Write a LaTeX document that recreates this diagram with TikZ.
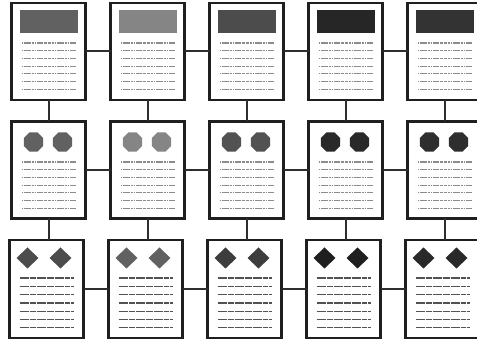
\documentclass[tikz,border=0pt]{standalone}
\usetikzlibrary{calc}
\begin{document}
\begin{tikzpicture}[x=1pt,y=-1pt,
  page/.style={draw=black!88, line width=2.6pt, fill=white, minimum width=74pt, minimum height=97pt, inner sep=0pt, outer sep=0pt, anchor=north west},
  link/.style={draw=black!82, line width=2pt},
  txt/.style={draw=black!45, line width=1.1pt, dash pattern=on 1.6pt off 0.6pt on 0.8pt off 0.6pt on 2.4pt off 0.6pt},
  txtdark/.style={draw=black!68, line width=1.3pt, dash pattern=on 4pt off 0.4pt on 2pt off 0.4pt on 3pt off 0.4pt}]
\useasboundingbox[fill=white] (0,0) rectangle (477,344);
\clip (0,0) rectangle (477,344);
% pages
\foreach \c [evaluate=\c as \x using 11.5+99*(\c-1), evaluate=\c as \xx using 9.5+99*(\c-1)] in {1,...,5}{
  \node[page] (p1\c) at (\x,3) {};
  \node[page] (p2\c) at (\x,121.5) {};
  \node[page, minimum height=98pt] (p3\c) at (\xx,240) {};
}
% connectors
\foreach \c [evaluate=\c as \d using int(\c+1)] in {1,...,4}{
  \draw[link] (p1\c.east) -- (p1\d.west);
  \draw[link] (p2\c.east) -- (p2\d.west);
  \draw[link] (p3\c.east) -- (p3\d.west);
}
\foreach \c in {1,...,5}{
  \draw[link] (p1\c.south) -- (p2\c.north);
  \draw[link] (p2\c.south) -- (p2\c.south |- p3\c.north);
}
% page contents
\foreach \c/\hd/\oc/\dm [evaluate=\c as \x using 11.5+99*(\c-1), evaluate=\c as \xx using 9.5+99*(\c-1)] in {1/62/62/70, 2/48/48/62, 3/70/68/76, 4/85/84/88, 5/80/82/84}{
  % row 1: header block and text
  \fill[black!\hd] (\x+8,10) rectangle (\x+66,33);
  \foreach \i in {0,...,6}{
    \draw[txt] (\x+10,43+\i*7.7) -- (\x+64,43+\i*7.7);
  }
  % row 2: octagons and text
  \foreach \ox in {22,51}{
    \fill[black!\oc] (\x+\ox,142) +(22.5:10.5) -- +(67.5:10.5) -- +(112.5:10.5) -- +(157.5:10.5)
      -- +(202.5:10.5) -- +(247.5:10.5) -- +(292.5:10.5) -- +(337.5:10.5) -- cycle;
  }
  \foreach \i in {0,...,6}{
    \draw[txt] (\x+10,162+\i*7.7) -- (\x+64,162+\i*7.7);
  }
  % row 3: diamonds and text
  \foreach \dx in {18,51}{
    \fill[black!\dm] (\xx+\dx,258) +(11,0) -- +(0,10.5) -- +(-11,0) -- +(0,-10.5) -- cycle;
  }
  \foreach \i in {0,...,6}{
    \draw[txtdark] (\xx+10,278+\i*8.3) -- (\xx+64,278+\i*8.3);
  }
}
\end{tikzpicture}
\end{document}
